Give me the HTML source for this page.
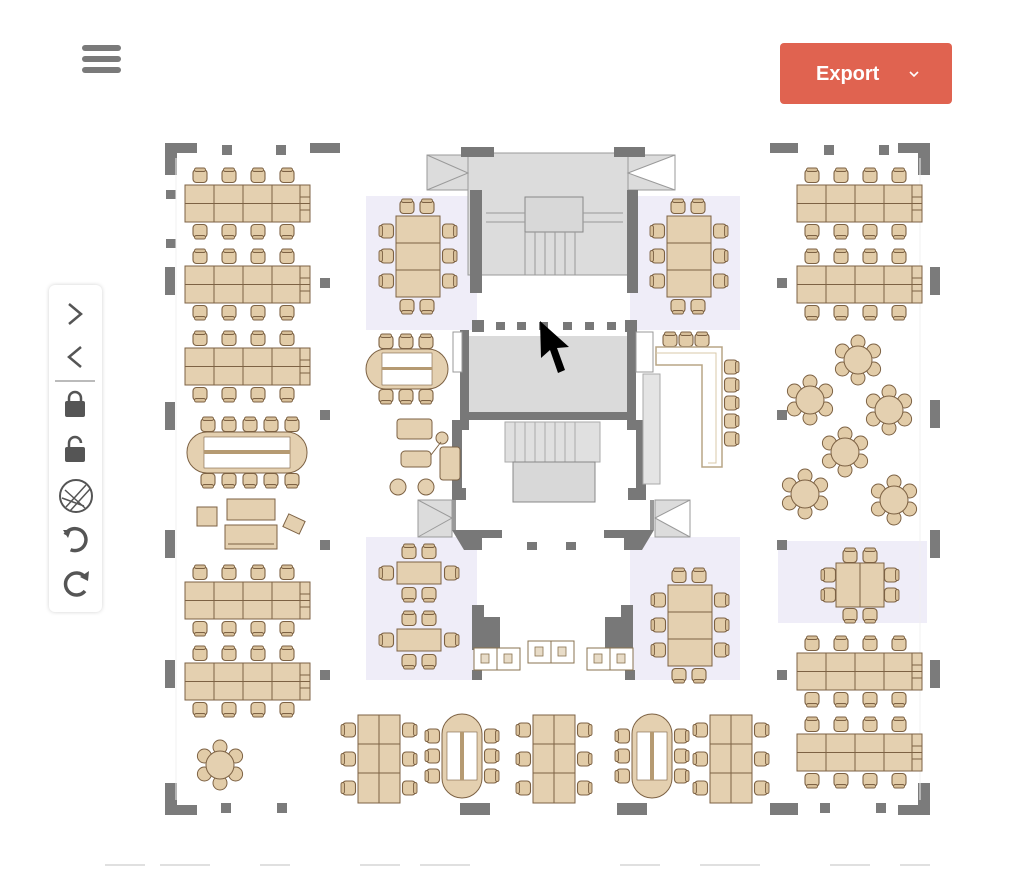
<!DOCTYPE html>
<html><head><meta charset="utf-8"><style>
html,body{margin:0;padding:0;background:#fff;width:1017px;height:872px;overflow:hidden}
.exp{position:absolute;left:780px;top:43px;width:172px;height:61px;background:#e06350;border-radius:4px;color:#fff;font:bold 20px "Liberation Sans",sans-serif}
.exp span{position:absolute;left:36px;top:20px}
.tb{position:absolute;left:49px;top:285px;width:53px;height:327px;background:#fff;border-radius:6px;box-shadow:0 0 4px rgba(0,0,0,.18)}
</style></head><body>
<svg width="1017" height="872" style="position:absolute;left:0;top:0">
<defs>
<g id="c"><rect x="-7" y="-6.5" width="14" height="13" rx="3.5" fill="#e2cca8" stroke="#7d6244" stroke-width="1.1"/><rect x="-5.5" y="-8" width="11" height="3.5" rx="1.7" fill="#d7bf99" stroke="#7d6244" stroke-width=".9"/></g>
<g id="cd"><use href="#c" transform="rotate(180)"/></g>
<g id="cl"><use href="#c" transform="rotate(-90)"/></g>
<g id="cr"><use href="#c" transform="rotate(90)"/></g>
<g id="bench">
<use href="#c" x="15" y="-9"/><use href="#c" x="44" y="-9"/><use href="#c" x="73" y="-9"/><use href="#c" x="102" y="-9"/>
<use href="#cd" x="15" y="46"/><use href="#cd" x="44" y="46"/><use href="#cd" x="73" y="46"/><use href="#cd" x="102" y="46"/>
<rect x="0" y="0" width="125" height="37" fill="#e4d0b0" stroke="#7d6244"/>
<path d="M0 18.5H125M29 0V37M58 0V37M87 0V37M115 0V37M115 12H125M115 25H125" stroke="#7d6244" fill="none"/>
</g>
<g id="rt">
<circle cx="0" cy="-18" r="7" fill="#e2cca8" stroke="#7d6244"/><circle cx="15.6" cy="-9" r="7" fill="#e2cca8" stroke="#7d6244"/><circle cx="15.6" cy="9" r="7" fill="#e2cca8" stroke="#7d6244"/><circle cx="0" cy="18" r="7" fill="#e2cca8" stroke="#7d6244"/><circle cx="-15.6" cy="9" r="7" fill="#e2cca8" stroke="#7d6244"/><circle cx="-15.6" cy="-9" r="7" fill="#e2cca8" stroke="#7d6244"/>
<circle r="14" fill="#e4d0b0" stroke="#7d6244"/>
</g>
<g id="vt">
<use href="#cl" x="-9" y="15"/><use href="#cl" x="-9" y="44"/><use href="#cl" x="-9" y="73"/>
<use href="#cr" x="51" y="15"/><use href="#cr" x="51" y="44"/><use href="#cr" x="51" y="73"/>
<rect width="42" height="88" fill="#e4d0b0" stroke="#7d6244"/><path d="M21 0V88M0 29H42M0 58H42" stroke="#7d6244"/>
</g>
<g id="vo">
<use href="#cl" x="-9" y="22"/><use href="#cl" x="-9" y="42"/><use href="#cl" x="-9" y="62"/>
<use href="#cr" x="49" y="22"/><use href="#cr" x="49" y="42"/><use href="#cr" x="49" y="62"/>
<rect width="40" height="84" rx="20" fill="#e4d0b0" stroke="#7d6244"/><rect x="5" y="18" width="30" height="48" fill="#fff" stroke="#7d6244" stroke-width=".6"/><rect x="18" y="18" width="4" height="48" fill="#b59a72"/>
</g>
<g id="mt">
<use href="#c" x="11" y="-9"/><use href="#c" x="31" y="-9"/><use href="#cd" x="11" y="90"/><use href="#cd" x="31" y="90"/>
<use href="#cl" x="-9" y="15"/><use href="#cl" x="-9" y="40"/><use href="#cl" x="-9" y="65"/>
<use href="#cr" x="53" y="15"/><use href="#cr" x="53" y="40"/><use href="#cr" x="53" y="65"/>
<rect width="44" height="81" fill="#e4d0b0" stroke="#7d6244"/><path d="M0 27H44M0 54H44" stroke="#7d6244"/>
</g>
<g id="st">
<use href="#c" x="12" y="-10"/><use href="#c" x="32" y="-10"/><use href="#cd" x="12" y="32"/><use href="#cd" x="32" y="32"/>
<use href="#cl" x="-10" y="11"/><use href="#cr" x="54" y="11"/>
<rect width="44" height="22" fill="#e4d0b0" stroke="#7d6244"/>
</g>
<g id="wc"><rect width="23" height="22" fill="#fff" stroke="#8a7350"/><rect x="7" y="6" width="8" height="9" fill="#e8dcc8" stroke="#8a7350" stroke-width=".8"/></g>
</defs>

<g fill="#efedf8">
<rect x="366" y="196" width="111" height="134"/><rect x="630" y="196" width="110" height="134"/>
<rect x="366" y="537" width="111" height="143"/><rect x="630" y="537" width="110" height="143"/>
<rect x="778" y="541" width="149" height="82"/>
</g>

<g fill="#7b7b7b">
<path d="M165 143h32v10h-20v22h-12z"/><path d="M930 143h-32v10h20v22h12z"/>
<path d="M165 815h32v-10h-20v-22h-12z"/><path d="M930 815h-32v-10h20v-22h12z"/>
<rect x="222" y="145" width="10" height="10"/><rect x="276" y="145" width="10" height="10"/><rect x="310" y="143" width="30" height="10"/>
<rect x="770" y="143" width="28" height="10"/><rect x="824" y="145" width="10" height="10"/><rect x="879" y="145" width="10" height="10"/>
<rect x="166" y="190" width="10" height="9"/><rect x="166" y="239" width="10" height="9"/><rect x="165" y="267" width="10" height="28"/>
<rect x="165" y="402" width="10" height="28"/><rect x="165" y="530" width="10" height="28"/><rect x="165" y="660" width="10" height="28"/>
<rect x="930" y="267" width="10" height="28"/><rect x="930" y="400" width="10" height="28"/><rect x="930" y="530" width="10" height="28"/><rect x="930" y="660" width="10" height="28"/>
<rect x="320" y="278" width="10" height="10"/><rect x="320" y="410" width="10" height="10"/><rect x="320" y="540" width="10" height="10"/><rect x="320" y="670" width="10" height="10"/>
<rect x="777" y="278" width="10" height="10"/><rect x="777" y="410" width="10" height="10"/><rect x="777" y="540" width="10" height="10"/><rect x="777" y="670" width="10" height="10"/>
<rect x="221" y="803" width="10" height="10"/><rect x="277" y="803" width="10" height="10"/><rect x="460" y="803" width="30" height="12"/><rect x="617" y="803" width="30" height="12"/><rect x="770" y="803" width="28" height="12"/><rect x="820" y="803" width="10" height="10"/><rect x="876" y="803" width="10" height="10"/>
</g>
<path d="M176 158V800M920 158V800" stroke="#f0f0f0" stroke-width="1"/>
<path d="M105 865h40M160 865h50M260 865h30M360 865h40M420 865h50M620 865h40M700 865h60M830 865h40M900 865h30" stroke="#e0e0e0" stroke-width="2"/>

<rect x="468" y="153" width="160" height="122" fill="#dcdcdc" stroke="#9a9a9a"/>
<path d="M427 155h41v35h-41zM427 155l41 18-41 17M628 155h47v35h-47zM675 155l-47 18 47 17" fill="#dcdcdc" stroke="#9a9a9a"/>
<rect x="525" y="197" width="58" height="35" fill="#d8d8d8" stroke="#888"/>
<path d="M525 232v43M535 232v43M545 232v43M555 232v43M565 232v43M575 232v43M486 213h39M486 222h39M583 213h40M583 222h40" stroke="#999"/>
<g fill="#787878">
<rect x="461" y="147" width="33" height="10"/><rect x="614" y="147" width="31" height="10"/>
<rect x="470" y="190" width="12" height="103"/><rect x="627" y="190" width="11" height="103"/>
</g>
<rect x="462" y="336" width="168" height="80" fill="#dadada"/>
<g fill="#787878">
<path d="M472 320h12v12h-12zM625 320h12v12h-12z"/>
<rect x="496" y="322" width="9" height="8"/><rect x="517" y="322" width="9" height="8"/><rect x="539" y="322" width="9" height="8"/><rect x="563" y="322" width="9" height="8"/><rect x="585" y="322" width="9" height="8"/><rect x="607" y="322" width="9" height="8"/>
<rect x="460" y="330" width="9" height="100"/><rect x="627" y="330" width="9" height="100"/>
<rect x="460" y="412" width="176" height="8"/>
<rect x="452" y="420" width="10" height="68"/><rect x="636" y="420" width="10" height="70"/>
<rect x="452" y="488" width="14" height="12"/><rect x="628" y="488" width="18" height="12"/>
<path d="M452 530h50v8h-20v12h-18zM654 530h-50v8h20v12h18z"/>
<rect x="527" y="542" width="10" height="8"/><rect x="566" y="542" width="10" height="8"/>
</g>
<rect x="452" y="500" width="4" height="30" fill="#999"/><rect x="650" y="500" width="4" height="30" fill="#999"/>
<rect x="505" y="422" width="95" height="40" fill="#e0e0e0" stroke="#aaa"/>
<path d="M515 422v40M525 422v40M535 422v40M545 422v40M555 422v40M565 422v40M575 422v40" stroke="#aaa"/>
<rect x="513" y="462" width="82" height="40" fill="#d8d8d8" stroke="#888"/>
<path d="M418 500h34v37h-34zM418 500l34 18-34 19M655 500h35v37h-35zM690 500l-35 18 35 19" fill="#dcdcdc" stroke="#9a9a9a"/>
<rect x="453" y="332" width="9" height="40" fill="#fff" stroke="#999"/><rect x="636" y="332" width="17" height="40" fill="#fff" stroke="#999"/>
<rect x="643" y="374" width="17" height="110" fill="#e4e4e4" stroke="#aaa"/>

<g fill="#787878"><path d="M472 605h12v12h16v33h-28z"/><path d="M633 605h-12v12h-16v33h28z"/><rect x="472" y="670" width="10" height="10"/><rect x="625" y="670" width="10" height="10"/></g>
<use href="#wc" x="474" y="648"/><use href="#wc" x="497" y="648"/>
<use href="#wc" x="528" y="641"/><use href="#wc" x="551" y="641"/>
<use href="#wc" x="587" y="648"/><use href="#wc" x="610" y="648"/>

<use href="#bench" x="185" y="185"/><use href="#bench" x="185" y="266"/><use href="#bench" x="185" y="348"/>
<use href="#bench" x="185" y="582"/><use href="#bench" x="185" y="663"/>
<use href="#bench" x="797" y="185"/><use href="#bench" x="797" y="266"/><use href="#bench" x="797" y="653"/><use href="#bench" x="797" y="734"/>

<g>
<use href="#c" x="208" y="425"/><use href="#c" x="229" y="425"/><use href="#c" x="250" y="425"/><use href="#c" x="271" y="425"/><use href="#c" x="292" y="425"/>
<use href="#cd" x="208" y="480"/><use href="#cd" x="229" y="480"/><use href="#cd" x="250" y="480"/><use href="#cd" x="271" y="480"/><use href="#cd" x="292" y="480"/>
<rect x="187" y="432" width="120" height="41" rx="20" fill="#e4d0b0" stroke="#7d6244"/>
<rect x="204" y="437" width="86" height="31" fill="#fff" stroke="#7d6244" stroke-width=".6"/><rect x="204" y="450" width="86" height="4" fill="#b59a72"/>
</g>
<g fill="#e4d0b0" stroke="#7d6244">
<rect x="197" y="507" width="20" height="19"/><rect x="227" y="499" width="48" height="21"/><rect x="225" y="525" width="52" height="24"/><rect x="285" y="517" width="18" height="14" transform="rotate(25 294 524)"/>
</g>
<path d="M228 544h46" stroke="#7d6244"/>

<use href="#c" x="386" y="342"/><use href="#c" x="406" y="342"/><use href="#c" x="426" y="342"/>
<use href="#cd" x="386" y="396"/><use href="#cd" x="406" y="396"/><use href="#cd" x="426" y="396"/>
<rect x="366" y="349" width="82" height="40" rx="20" fill="#e4d0b0" stroke="#7d6244"/>
<rect x="382" y="353" width="50" height="32" fill="#fff" stroke="#7d6244" stroke-width=".6"/><rect x="382" y="367" width="50" height="3" fill="#b59a72"/>
<g fill="#e4d0b0" stroke="#7d6244">
<rect x="397" y="419" width="35" height="20" rx="3"/><rect x="401" y="451" width="30" height="16" rx="4"/><circle cx="442" cy="438" r="6"/><rect x="440" y="447" width="20" height="33" rx="3"/>
<circle cx="398" cy="487" r="8"/><circle cx="426" cy="487" r="8"/>
</g>
<path d="M431 455l10-13" stroke="#7d6244"/>

<use href="#mt" x="396" y="216"/><use href="#mt" x="667" y="216"/>
<use href="#st" x="397" y="562"/><use href="#st" x="397" y="629"/>
<use href="#mt" x="668" y="585"/>

<use href="#c" x="670" y="340"/><use href="#c" x="686" y="340"/><use href="#c" x="702" y="340"/>
<use href="#cr" x="731" y="367"/><use href="#cr" x="731" y="385"/><use href="#cr" x="731" y="403"/><use href="#cr" x="731" y="421"/><use href="#cr" x="731" y="439"/>
<path d="M656 347h66v120h-20v-102h-46z" fill="#fff" stroke="#b9a585" stroke-width="1.5"/>
<path d="M656 353h60v110h-8" fill="none" stroke="#d8c8aa"/>

<use href="#rt" x="858" y="360"/><use href="#rt" x="810" y="400"/><use href="#rt" x="889" y="410"/><use href="#rt" x="845" y="452"/><use href="#rt" x="805" y="494"/><use href="#rt" x="894" y="500"/>
<use href="#rt" x="220" y="765"/>
<use href="#c" x="850" y="556"/><use href="#c" x="870" y="556"/><use href="#cd" x="850" y="615"/><use href="#cd" x="870" y="615"/>
<use href="#cl" x="829" y="575"/><use href="#cl" x="829" y="595"/><use href="#cr" x="891" y="575"/><use href="#cr" x="891" y="595"/>
<rect x="836" y="563" width="48" height="44" fill="#e4d0b0" stroke="#7d6244"/><path d="M860 563v44" stroke="#7d6244"/>

<use href="#vt" x="358" y="715"/><use href="#vo" x="442" y="714"/><use href="#vt" x="533" y="715"/><use href="#vo" x="632" y="714"/><use href="#vt" x="710" y="715"/>

<path d="M540 321l1 37 9-8 8 23 7-3-8-22 12-1z" fill="#000"/>

<g fill="#7a7a7a"><rect x="82" y="45" width="39" height="6" rx="3"/><rect x="82" y="56" width="39" height="6" rx="3"/><rect x="82" y="67" width="39" height="6" rx="3"/></g>
</svg>

<div class="exp"><span>Export</span><svg style="position:absolute;left:128px;top:27px" width="12" height="8"><path d="M2 2l4 4 4-4" stroke="#fff" stroke-width="1.6" fill="none"/></svg></div>

<div class="tb">
<svg width="53" height="327">
<path d="M20 19l12 10-12 10" stroke="#555" stroke-width="2.5" fill="none"/>
<path d="M32 62l-12 10 12 10" stroke="#555" stroke-width="2.5" fill="none"/>
<path d="M6 96H46" stroke="#bbb" stroke-width="2"/>
<rect x="16" y="116" width="20" height="16" rx="2" fill="#555"/><path d="M20 117v-4a6 6 0 0 1 12 0v4" stroke="#555" stroke-width="2.5" fill="none"/>
<rect x="16" y="162" width="20" height="15" rx="2" fill="#555"/><path d="M20 162v-4a6 6 0 0 1 12 0" stroke="#555" stroke-width="2.5" fill="none"/>
<circle cx="27" cy="211" r="16" stroke="#555" stroke-width="2" fill="none"/><path d="M17 222l20-22M21 226l20-22M13 213l22 8M16 205l20 18" stroke="#555" stroke-width="1.5"/>
<path d="M19 246a11 11 0 1 1 0 16" stroke="#555" stroke-width="3.5" fill="none" transform="rotate(-20 28 256)"/><path d="M14 245l8 0-3 8z" fill="#555"/>
<path d="M36 292a11 11 0 1 0 0 14" stroke="#555" stroke-width="3.5" fill="none"/><path d="M40 286l-1 10-8-4z" fill="#555"/>
</svg>
</div>
</body></html>
